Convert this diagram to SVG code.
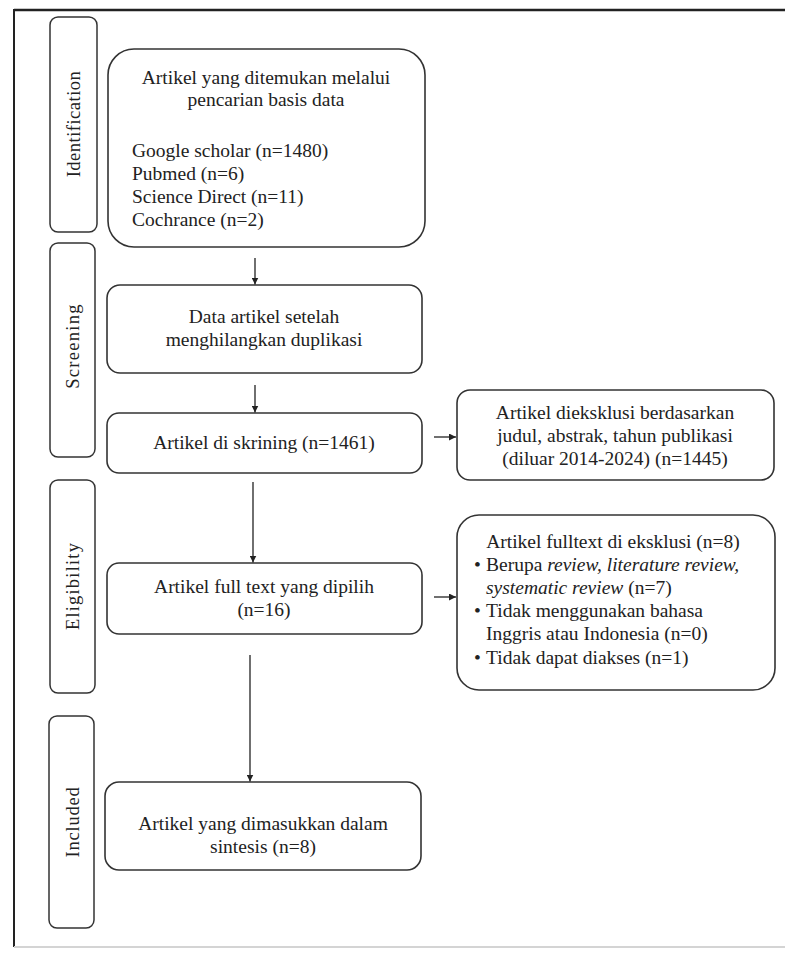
<svg xmlns="http://www.w3.org/2000/svg" width="785" height="953" viewBox="0 0 785 953">
<defs>
<marker id="ah" viewBox="0 0 10 10" refX="10" refY="5" markerWidth="7" markerHeight="7" markerUnits="userSpaceOnUse" orient="auto">
<path d="M0,0 L10,5 L0,10 z" fill="#222"/>
</marker>
<style>
.t{font-family:"Liberation Serif","Times New Roman",serif;font-size:19.5px;fill:#222}
.c{text-anchor:middle}
.lab{font-family:"Liberation Serif","Times New Roman",serif;font-size:18.5px;fill:#222;text-anchor:middle}
.box{fill:#fff;stroke:#333;stroke-width:1.6}
.side{fill:#fff;stroke:#333;stroke-width:1.5}
.ar{stroke:#222;stroke-width:1.3;fill:none;marker-end:url(#ah)}
</style>
</defs>
<rect width="785" height="953" fill="#fff"/>
<g id="frame">
<line x1="14" y1="10" x2="785" y2="10" stroke="#222" stroke-width="2.5"/>
<line x1="14" y1="9" x2="14" y2="947" stroke="#222" stroke-width="2"/>
<line x1="14" y1="947" x2="785" y2="947" stroke="#d4d4d4" stroke-width="2"/>
</g>
<g id="lbl-identification">
<rect class="side" x="50" y="17" width="47" height="215" rx="8"/>
<text class="lab" transform="translate(79.5,124) rotate(-90)" letter-spacing="0.5">Identification</text>
</g>
<g id="lbl-screening">
<rect class="side" x="50" y="243" width="45" height="214" rx="8"/>
<text class="lab" transform="translate(79,346) rotate(-90)" letter-spacing="1.3">Screening</text>
</g>
<g id="lbl-eligibility">
<rect class="side" x="50" y="480" width="45" height="213" rx="8"/>
<text class="lab" transform="translate(79,586) rotate(-90)" letter-spacing="1.2">Eligibility</text>
</g>
<g id="lbl-included">
<rect class="side" x="49" y="716" width="45" height="212" rx="8"/>
<text class="lab" transform="translate(78.5,822) rotate(-90)" letter-spacing="0.8">Included</text>
</g>
<g id="n-identified">
<rect class="box" x="108" y="49" width="317" height="198" rx="26"/>
<text class="t c" x="266" y="84">Artikel yang ditemukan melalui</text>
<text class="t c" x="266" y="106">pencarian basis data</text>
<text class="t" x="132" y="157">Google scholar (n=1480)</text>
<text class="t" x="132" y="180">Pubmed (n=6)</text>
<text class="t" x="132" y="203">Science Direct (n=11)</text>
<text class="t" x="132" y="226">Cochrance (n=2)</text>
</g>
<g id="n-dedup">
<rect class="box" x="107" y="285" width="315" height="88" rx="13"/>
<text class="t c" x="264" y="323">Data artikel setelah</text>
<text class="t c" x="264" y="346">menghilangkan duplikasi</text>
</g>
<g id="n-screened">
<rect class="box" x="107" y="413" width="315" height="60" rx="12"/>
<text class="t c" x="264" y="449">Artikel di skrining (n=1461)</text>
</g>
<g id="n-excluded1">
<rect class="box" x="457" y="390" width="317" height="90" rx="13"/>
<text class="t c" x="615" y="419">Artikel dieksklusi berdasarkan</text>
<text class="t c" x="615" y="442">judul, abstrak, tahun publikasi</text>
<text class="t c" x="615" y="465">(diluar 2014-2024) (n=1445)</text>
</g>
<g id="n-fulltext">
<rect class="box" x="107" y="563" width="315" height="71" rx="12"/>
<text class="t c" x="264" y="593">Artikel full text yang dipilih</text>
<text class="t c" x="264" y="616">(n=16)</text>
</g>
<g id="n-excluded2">
<rect class="box" x="457" y="515" width="318" height="175" rx="22"/>
<text class="t c" x="613" y="548">Artikel fulltext di eksklusi (n=8)</text>
<text class="t" x="474" y="571">•</text>
<text class="t" x="486" y="571">Berupa <tspan font-style="italic">review, literature review,</tspan></text>
<text class="t" x="486" y="594"><tspan font-style="italic">systematic review</tspan> (n=7)</text>
<text class="t" x="474" y="617">•</text>
<text class="t" x="486" y="617">Tidak menggunakan bahasa</text>
<text class="t" x="486" y="640">Inggris atau Indonesia (n=0)</text>
<text class="t" x="474" y="664">•</text>
<text class="t" x="486" y="664">Tidak dapat diakses (n=1)</text>
</g>
<g id="n-included">
<rect class="box" x="105" y="782" width="316" height="88" rx="14"/>
<text class="t c" x="263" y="830">Artikel yang dimasukkan dalam</text>
<text class="t c" x="263" y="853">sintesis (n=8)</text>
</g>
<g id="connectors">
<line class="ar" x1="255" y1="258" x2="255" y2="284.5"/>
<line class="ar" x1="255" y1="385" x2="255" y2="412.5"/>
<line class="ar" x1="253" y1="482" x2="253" y2="562.5"/>
<line class="ar" x1="250" y1="655" x2="250" y2="781.5"/>
<line class="ar" x1="434" y1="437" x2="456" y2="437"/>
<line class="ar" x1="434" y1="597" x2="456" y2="597"/>
</g>
</svg>
